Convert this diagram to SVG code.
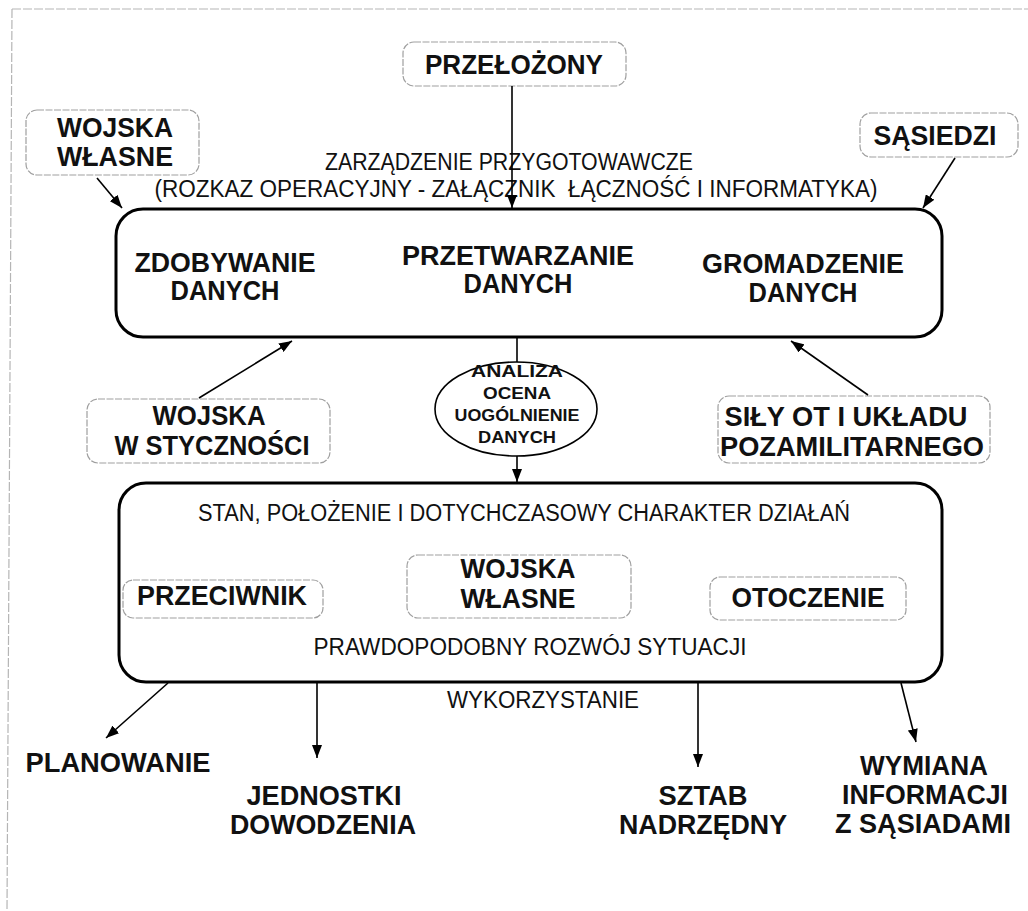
<svg xmlns="http://www.w3.org/2000/svg" width="1028" height="911" viewBox="0 0 1028 911">
<defs>
<marker id="ah" viewBox="0 0 13 10" refX="13" refY="5" markerWidth="13" markerHeight="10" markerUnits="userSpaceOnUse" orient="auto"><path d="M0,0 L13,5 L0,10 Z" fill="#000"/></marker>
<style>
.bx{fill:none;stroke:#9f9f9f;stroke-width:1.2;stroke-dasharray:7 1.5}
.main{fill:none;stroke:#000;stroke-width:3}
.b{font-family:"Liberation Sans",Arial,sans-serif;font-weight:bold;font-size:27px;fill:#111;text-anchor:middle}
.r{font-family:"Liberation Sans",Arial,sans-serif;font-size:23px;fill:#111;text-anchor:middle}
.e{font-family:"Liberation Sans",Arial,sans-serif;font-weight:bold;font-size:16px;fill:#111;text-anchor:middle}
.c{stroke:#000;stroke-width:1.6;fill:none}
.frame{stroke:#b5b5b5;stroke-width:1.2;fill:none;stroke-dasharray:9 2}
</style>
</defs>
<rect x="0" y="0" width="1028" height="911" fill="#fff"/>
<g id="frame">
<path class="frame" d="M12,9 L1028,9"/>
<path class="frame" d="M12,9 L7,911"/>
</g>

<g id="node-przelozony">
<rect class="bx" x="403" y="42" width="223" height="44" rx="11"/>
<text class="b" x="514" y="74" textLength="178" lengthAdjust="spacingAndGlyphs">PRZEŁOŻONY</text>
</g>
<g id="node-wojska-wlasne-top">
<rect class="bx" x="26" y="110" width="173" height="65" rx="11"/>
<text class="b" x="115" y="137" textLength="116" lengthAdjust="spacingAndGlyphs">WOJSKA</text>
<text class="b" x="115" y="166" textLength="116" lengthAdjust="spacingAndGlyphs">WŁASNE</text>
</g>
<g id="node-sasiedzi">
<rect class="bx" x="860" y="113" width="158" height="44" rx="11"/>
<text class="b" x="935" y="145" textLength="123" lengthAdjust="spacingAndGlyphs">SĄSIEDZI</text>
</g>
<g id="label-zarzadzenie">
<text class="r" x="509" y="170" textLength="368" lengthAdjust="spacingAndGlyphs">ZARZĄDZENIE PRZYGOTOWAWCZE</text>
<text class="r" x="516" y="197" textLength="723" lengthAdjust="spacingAndGlyphs" xml:space="preserve">(ROZKAZ OPERACYJNY - ZAŁĄCZNIK  ŁĄCZNOŚĆ I INFORMATYKA)</text>
</g>

<g id="node-dane">
<rect class="main" x="116" y="209" width="826" height="128" rx="27"/>
<text class="b" x="225" y="272" textLength="181" lengthAdjust="spacingAndGlyphs">ZDOBYWANIE</text>
<text class="b" x="225" y="300" textLength="109" lengthAdjust="spacingAndGlyphs">DANYCH</text>
<text class="b" x="518" y="265" textLength="232" lengthAdjust="spacingAndGlyphs">PRZETWARZANIE</text>
<text class="b" x="518" y="293" textLength="109" lengthAdjust="spacingAndGlyphs">DANYCH</text>
<text class="b" x="803" y="273" textLength="202" lengthAdjust="spacingAndGlyphs">GROMADZENIE</text>
<text class="b" x="803" y="302" textLength="109" lengthAdjust="spacingAndGlyphs">DANYCH</text>
</g>

<g id="node-analiza">
<ellipse cx="516" cy="409" rx="81" ry="47" fill="none" stroke="#000" stroke-width="1.6"/>
<text class="e" x="517" y="377" textLength="92" lengthAdjust="spacingAndGlyphs">ANALIZA</text>
<text class="e" x="517" y="399" textLength="68" lengthAdjust="spacingAndGlyphs">OCENA</text>
<text class="e" x="517" y="421" textLength="125" lengthAdjust="spacingAndGlyphs">UOGÓLNIENIE</text>
<text class="e" x="517" y="443" textLength="78" lengthAdjust="spacingAndGlyphs">DANYCH</text>
</g>

<g id="node-wojska-stycznosc">
<rect class="bx" x="87" y="399" width="243" height="64" rx="11"/>
<text class="b" x="209" y="425" textLength="113" lengthAdjust="spacingAndGlyphs">WOJSKA</text>
<text class="b" x="212" y="455" textLength="195" lengthAdjust="spacingAndGlyphs">W STYCZNOŚCI</text>
</g>
<g id="node-sily-ot">
<rect class="bx" x="718" y="396" width="272" height="67" rx="11"/>
<text class="b" x="846" y="426" textLength="243" lengthAdjust="spacingAndGlyphs">SIŁY OT I UKŁADU</text>
<text class="b" x="852" y="456" textLength="264" lengthAdjust="spacingAndGlyphs">POZAMILITARNEGO</text>
</g>

<g id="node-sytuacja">
<rect class="main" x="119" y="483" width="823" height="199" rx="27"/>
<text class="r" x="524" y="521" textLength="652" lengthAdjust="spacingAndGlyphs">STAN, POŁOŻENIE I DOTYCHCZASOWY CHARAKTER DZIAŁAŃ</text>
<text class="r" x="530" y="655" textLength="433" lengthAdjust="spacingAndGlyphs">PRAWDOPODOBNY ROZWÓJ SYTUACJI</text>
</g>
<g id="node-przeciwnik">
<rect class="bx" x="123" y="580" width="200" height="38" rx="10"/>
<text class="b" x="222" y="605" textLength="170" lengthAdjust="spacingAndGlyphs">PRZECIWNIK</text>
</g>
<g id="node-wojska-wlasne-inner">
<rect class="bx" x="407" y="555" width="224" height="63" rx="11"/>
<text class="b" x="518" y="578" textLength="115" lengthAdjust="spacingAndGlyphs">WOJSKA</text>
<text class="b" x="518" y="608" textLength="115" lengthAdjust="spacingAndGlyphs">WŁASNE</text>
</g>
<g id="node-otoczenie">
<rect class="bx" x="710" y="577" width="196" height="43" rx="10"/>
<text class="b" x="808" y="607" textLength="153" lengthAdjust="spacingAndGlyphs">OTOCZENIE</text>
</g>

<g id="label-wykorzystanie">
<text class="r" x="543" y="708" textLength="192" lengthAdjust="spacingAndGlyphs">WYKORZYSTANIE</text>
</g>

<g id="node-planowanie">
<text class="b" x="118" y="772" textLength="185" lengthAdjust="spacingAndGlyphs">PLANOWANIE</text>
</g>
<g id="node-jednostki">
<text class="b" x="324" y="805" textLength="155" lengthAdjust="spacingAndGlyphs">JEDNOSTKI</text>
<text class="b" x="323" y="834" textLength="186" lengthAdjust="spacingAndGlyphs">DOWODZENIA</text>
</g>
<g id="node-sztab">
<text class="b" x="703" y="805" textLength="89" lengthAdjust="spacingAndGlyphs">SZTAB</text>
<text class="b" x="703" y="834" textLength="168" lengthAdjust="spacingAndGlyphs">NADRZĘDNY</text>
</g>
<g id="node-wymiana">
<text class="b" x="924" y="775" textLength="128" lengthAdjust="spacingAndGlyphs">WYMIANA</text>
<text class="b" x="925" y="804" textLength="166" lengthAdjust="spacingAndGlyphs">INFORMACJI</text>
<text class="b" x="923" y="833" textLength="176" lengthAdjust="spacingAndGlyphs">Z SĄSIADAMI</text>
</g>

<g id="connectors">
<line class="c" x1="512" y1="86" x2="512" y2="208" marker-end="url(#ah)"/>
<line class="c" x1="97" y1="178" x2="122" y2="208" marker-end="url(#ah)"/>
<line class="c" x1="955" y1="158" x2="923" y2="208" marker-end="url(#ah)"/>
<line class="c" x1="517" y1="338" x2="517" y2="362"/>
<line class="c" x1="517" y1="456" x2="517" y2="482" marker-end="url(#ah)"/>
<line class="c" x1="199" y1="398" x2="292" y2="341" marker-end="url(#ah)"/>
<line class="c" x1="868" y1="395" x2="791" y2="341" marker-end="url(#ah)"/>
<line class="c" x1="168" y1="683" x2="106" y2="738" marker-end="url(#ah)"/>
<line class="c" x1="317" y1="683" x2="317" y2="758" marker-end="url(#ah)"/>
<line class="c" x1="698" y1="683" x2="698" y2="767" marker-end="url(#ah)"/>
<line class="c" x1="901" y1="683" x2="916" y2="742" marker-end="url(#ah)"/>
</g>
</svg>
